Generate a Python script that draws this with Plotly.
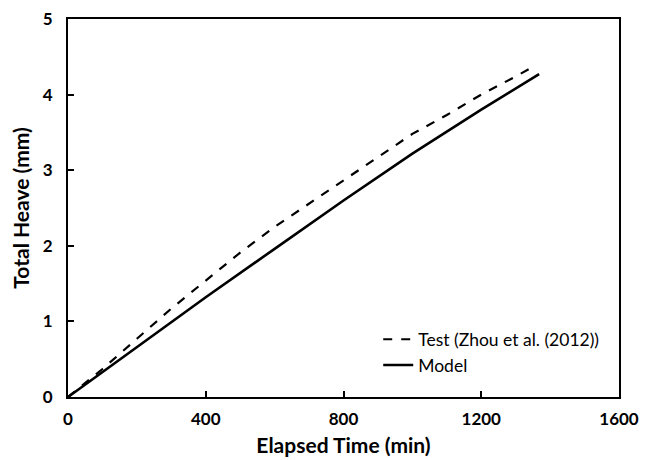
import plotly.graph_objects as go

test_time = [0, 100, 200, 300, 400, 500, 600, 700, 800, 900, 1000, 1100, 1200, 1300, 1351]
test_heave = [0, 0.37, 0.77, 1.17, 1.54, 1.91, 2.25, 2.56, 2.86, 3.18, 3.48, 3.73, 4.00, 4.24, 4.37]

model_time = [0, 200, 400, 600, 800, 1000, 1200, 1368]
model_heave = [0, 0.66, 1.32, 1.96, 2.60, 3.22, 3.80, 4.27]

x_ticks = [0, 400, 800, 1200, 1600]
y_ticks = [0, 1, 2, 3, 4, 5]

FONT = "Lato, Carlito, 'Open Sans', sans-serif"

fig = go.Figure()
fig.add_trace(go.Scatter(x=test_time, y=test_heave, mode="lines",
                         name="Test (Zhou et al. (2012))",
                         line=dict(color="black", width=2.2, dash="dash")))
fig.add_trace(go.Scatter(x=model_time, y=model_heave, mode="lines",
                         name="Model",
                         line=dict(color="black", width=2.6)))

axis_common = dict(showline=True, linecolor="black", linewidth=2, mirror=True,
                   ticks="inside", ticklen=6, tickwidth=1.5, tickcolor="black",
                   showgrid=False, zeroline=False, automargin=False,
                   ticklabeloverflow="allow",
                   tickfont=dict(family=FONT, size=17, color="black", weight="bold"))

fig.update_xaxes(range=[0, 1600], tickvals=x_ticks, ticklabelstandoff=6,
                 title=dict(text="<b>Elapsed Time (min)</b>", font=dict(family=FONT, size=21, color="black"), standoff=10),
                 **axis_common)
fig.update_yaxes(range=[0, 5], tickvals=y_ticks, ticklabelstandoff=10,
                 title=dict(text="<b>Total Heave (mm)</b>", font=dict(family=FONT, size=21, color="black"), standoff=8),
                 **axis_common)

fig.update_layout(width=642, height=452,
                  margin=dict(l=60, r=31, t=11, b=63),
                  paper_bgcolor="white", plot_bgcolor="white",
                  font=dict(family=FONT, color="black"),
                  showlegend=True,
                  legend=dict(x=0.563, y=0.2, xanchor="left", yanchor="top",
                              bgcolor="rgba(0,0,0,0)", font=dict(family=FONT, size=17.5, color="black"),
                              tracegroupgap=2, itemwidth=30))

fig.write_html("out.html")
